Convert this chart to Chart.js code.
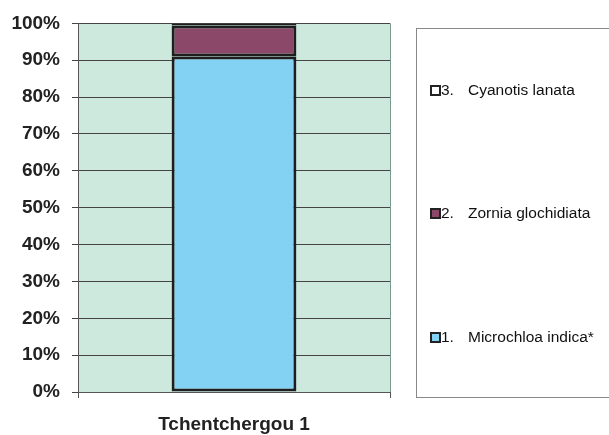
<!DOCTYPE html>
<html>
<head>
<meta charset="utf-8">
<script src="https://cdn.jsdelivr.net/npm/chart.js@4/dist/chart.umd.min.js"></script>
<style>
  body { margin: 0; background: #fff; }
  #wrap { width: 609px; height: 435px; }
</style>
</head>
<body>
<div id="wrap"><canvas id="graphCanvas"></canvas></div>
<script>
// data
var sites = ['Tchentchergou 1'];
var speciesNames = ['1. Microchloa indica*', '2. Zornia glochidiata', '3. Cyanotis lanata'];
var microchloa = [91];
var zornia = [8.4];
var cyanotis = [0.6];
var yTicks = [0, 10, 20, 30, 40, 50, 60, 70, 80, 90, 100];

var colours = ['#84d2f3', '#8c4868', '#ffffff'];

// green plot background + right border
var plotBg = {
    id: 'plotBg',
    beforeDraw: function (chart) {
        let a = chart.chartArea, ctx = chart.ctx;
        ctx.save();
        ctx.fillStyle = '#cde9de';
        ctx.fillRect(a.left, a.top, a.right - a.left, a.bottom - a.top);
        ctx.restore();
    },
    afterDraw: function (chart) {
        let a = chart.chartArea, ctx = chart.ctx;
        ctx.save();
        ctx.strokeStyle = '#7a9a90';
        ctx.lineWidth = 1;
        ctx.beginPath();
        ctx.moveTo(a.right + 0.5, a.top);
        ctx.lineTo(a.right + 0.5, a.bottom);
        ctx.stroke();
        ctx.restore();
    }
};

// boxed legend on the right, items spread out, last series on top
var boxLegend = {
    id: 'boxLegend',
    afterDraw: function (chart) {
        let ctx = chart.ctx;
        let sets = chart.data.datasets;
        let left = 416, top = 28, bottom = 397;
        ctx.save();
        ctx.strokeStyle = '#888';
        ctx.lineWidth = 1;
        ctx.strokeRect(left + 0.5, top + 0.5, 700, bottom - top);
        let ys = [91, 214, 338];
        ctx.font = '15.5px "Liberation Sans", Arial, sans-serif';
        ctx.textBaseline = 'middle';
        for (let i = 0; i < sets.length; i++) {
            let ds = sets[sets.length - 1 - i];
            let y = ys[i];
            ctx.fillStyle = ds.backgroundColor;
            ctx.fillRect(431, y - 5, 9, 9);
            ctx.strokeStyle = '#222';
            ctx.lineWidth = 2;
            ctx.strokeRect(431, y - 5, 9, 9);
            let parts = ds.label.split(' ');
            ctx.fillStyle = '#111';
            ctx.fillText(parts[0], 441, y);
            ctx.fillText(parts.slice(1).join(' '), 468, y);
        }
        ctx.restore();
    }
};

var chartdata = {
    labels: sites,
    datasets: [
        { label: speciesNames[0], data: microchloa, backgroundColor: colours[0] },
        { label: speciesNames[1], data: zornia, backgroundColor: colours[1] },
        { label: speciesNames[2], data: cyanotis, backgroundColor: colours[2] }
    ].map(function (d) {
        d.borderColor = '#1e1e1e';
        d.borderWidth = 3;
        d.borderSkipped = false;
        d.categoryPercentage = 1;
        d.barPercentage = 0.4;
        return d;
    })
};

var tickFont = { family: '"Liberation Sans", Arial, sans-serif', size: 19, weight: 'bold' };

new Chart(document.getElementById('graphCanvas'), {
    type: 'bar',
    data: chartdata,
    plugins: [plotBg, boxLegend],
    options: {
        responsive: true,
        maintainAspectRatio: false,
        animation: false,
        layout: { padding: { top: 23, right: 219, left: 0, bottom: 0 } },
        plugins: {
            legend: { display: false },
            tooltip: { enabled: false }
        },
        scales: {
            x: {
                stacked: true,
                grid: { drawOnChartArea: false, color: '#555', tickLength: 6, offset: true },
                border: { color: '#555', width: 1 },
                ticks: { color: '#222', font: tickFont, padding: 15 },
                afterFit: function (scale) { scale.height = 43; }
            },
            y: {
                stacked: true,
                min: 0,
                max: 100,
                afterBuildTicks: function (scale) {
                    scale.ticks = yTicks.map(function (v) { return { value: v }; });
                },
                grid: { color: '#444', lineWidth: 1, tickLength: 6 },
                border: { color: '#555', width: 1 },
                ticks: {
                    color: '#222',
                    font: tickFont,
                    padding: 12,
                    callback: function (v) { return v + '%'; }
                },
                afterFit: function (scale) { scale.width = 78; }
            }
        }
    }
});
</script>
</body>
</html>
